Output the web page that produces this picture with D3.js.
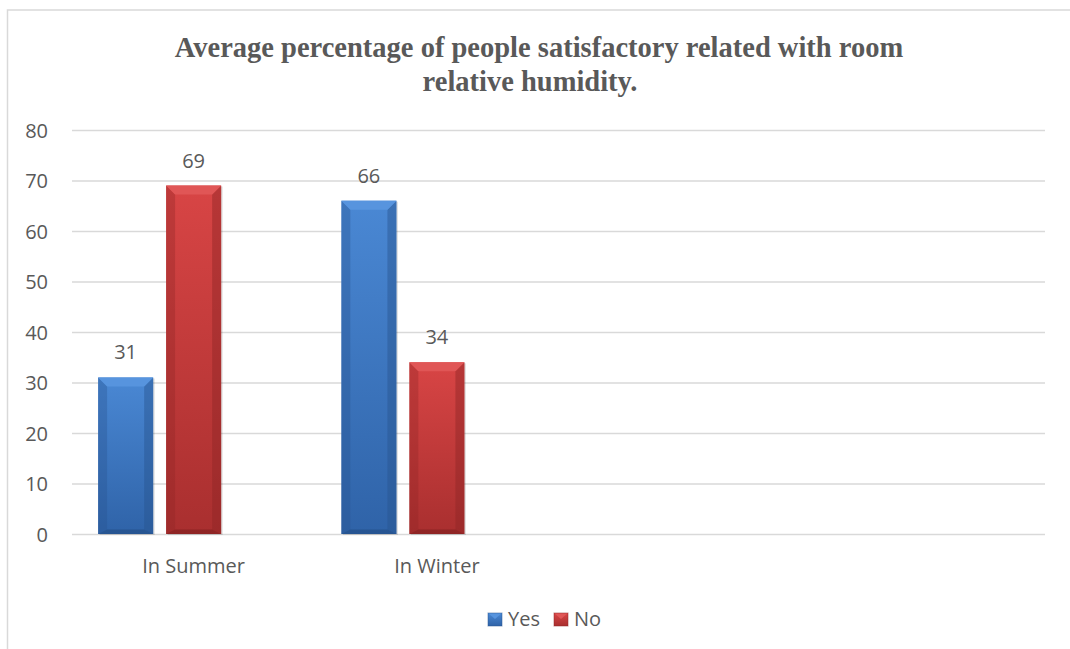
<!DOCTYPE html>
<html>
<head>
<meta charset="utf-8">
<script src="https://cdn.jsdelivr.net/npm/d3@7"></script>
<style>
  body { margin: 0; background: #fff; }
  .chart text { font-family: "Open Sans", sans-serif; fill: #595959; }
  .chart .title { font-family: "Liberation Serif", "Times New Roman", serif; font-weight: bold; }
</style>
</head>
<body>
<div class="chart"></div>
<script>
// chart data
var categories = ["In Summer", "In Winter", "", ""];
var seriesNames = ["Yes", "No"];
var yesValues = [31, 66, null, null];
var noValues = [69, 34, null, null];
var yTicks = [0, 10, 20, 30, 40, 50, 60, 70, 80];
var titleLines = ["Average percentage of people satisfactory related with room", "relative humidity."];

var svgWidth = 1070;
var svgHeight = 649;

var margin = { top: 130, right: 25, bottom: 115, left: 72 };
var width = svgWidth - margin.left - margin.right;
var height = 534 - margin.top;

var svg = d3.select(".chart")
  .append("svg")
  .attr("width", svgWidth)
  .attr("height", svgHeight);

var defs = svg.append("defs");

// bar colours: body gradient, bevel top, darker edges
var palette = {
  Yes: { top: "#4a88d4", bottom: "#2f63a8", bevel: "#5794de", edge: "#28548f", base: "#234c84" },
  No: { top: "#d84545", bottom: "#a92f2f", bevel: "#e05656", edge: "#8f2626", base: "#7f2020" }
};

seriesNames.forEach(function(s) {
  var g = defs.append("linearGradient")
    .attr("id", "grad-" + s)
    .attr("x1", 0).attr("y1", 0).attr("x2", 0).attr("y2", 1);
  g.append("stop").attr("offset", "0%").attr("stop-color", palette[s].top);
  g.append("stop").attr("offset", "100%").attr("stop-color", palette[s].bottom);
});

// chart area border (runs off the right and bottom of the picture)
svg.append("rect")
  .attr("x", 7.5)
  .attr("y", 10)
  .attr("width", 1200)
  .attr("height", 800)
  .attr("fill", "none")
  .attr("stroke", "#d9d9d9")
  .attr("stroke-width", 1.5);

// title, two lines as wrapped in the original
var title = svg.append("text")
  .attr("class", "title")
  .attr("y", 57)
  .attr("text-anchor", "middle")
  .style("font-size", "28.5px");

title.selectAll("tspan")
  .data(titleLines)
  .enter()
  .append("tspan")
  .attr("x", (d, i) => i === 0 ? 539 : 530)
  .attr("dy", (d, i) => i === 0 ? 0 : 34)
  .text(d => d);

var chartGroup = svg.append("g")
  .attr("transform", `translate(${margin.left}, ${margin.top})`);

// scales
var x0 = d3.scaleBand()
  .domain(d3.range(categories.length))
  .range([0, width]);

// Excel left room for a third (empty) series slot in each group
var x1 = d3.scaleBand()
  .domain(seriesNames.concat(["(blank)"]))
  .range([0, x0.bandwidth()])
  .paddingInner(0.19)
  .paddingOuter(0.384);

var yLinearScale = d3.scaleLinear()
  .domain([0, 80])
  .range([height, 0]);

// gridlines + y labels
var leftAxis = d3.axisLeft(yLinearScale)
  .tickValues(yTicks)
  .tickSize(-width)
  .tickPadding(24);

var yAxis = chartGroup.append("g").call(leftAxis);
yAxis.select(".domain").remove();
yAxis.selectAll("line")
  .attr("stroke", "#d9d9d9")
  .attr("stroke-width", 1.6);
yAxis.selectAll("text")
  .style("font-size", "20px")
  .attr("dy", "0.35em");

// category labels
var bottomAxis = d3.axisBottom(x0)
  .tickSize(0)
  .tickPadding(0)
  .tickFormat(i => categories[i]);

var xAxis = chartGroup.append("g")
  .attr("transform", `translate(0, ${height})`)
  .call(bottomAxis);
xAxis.select(".domain").remove();
xAxis.selectAll("text")
  .style("font-size", "20px")
  .attr("y", 39)
  .attr("dy", 0);

// bars
var rows = [];
categories.forEach(function(c, i) {
  [yesValues[i], noValues[i]].forEach(function(v, j) {
    if (v !== null) rows.push({ cat: i, series: seriesNames[j], value: v });
  });
});

var bars = chartGroup.selectAll(".bar")
  .data(rows)
  .enter()
  .append("g")
  .attr("class", "bar")
  .attr("transform", d => `translate(${x0(d.cat) + x1(d.series)}, ${yLinearScale(d.value)})`);

var bw = x1.bandwidth();
var bev = 9;

// soft shadow
bars.append("rect")
  .attr("x", 1.5)
  .attr("y", 1)
  .attr("width", bw)
  .attr("height", d => height - yLinearScale(d.value))
  .attr("fill", "#000")
  .attr("opacity", 0.12);

bars.append("rect")
  .attr("width", bw)
  .attr("height", d => height - yLinearScale(d.value))
  .attr("fill", d => `url(#grad-${d.series})`);

// side edges
bars.append("path")
  .attr("d", d => {
    var h = height - yLinearScale(d.value);
    return `M0,0 L${bev},${bev} L${bev},${h - bev / 2} L0,${h} Z`;
  })
  .attr("fill", d => palette[d.series].edge)
  .attr("opacity", 0.35);

bars.append("path")
  .attr("d", d => {
    var h = height - yLinearScale(d.value);
    return `M${bw},0 L${bw - bev},${bev} L${bw - bev},${h - bev / 2} L${bw},${h} Z`;
  })
  .attr("fill", d => palette[d.series].edge)
  .attr("opacity", 0.45);

// bottom edge
bars.append("path")
  .attr("d", d => {
    var h = height - yLinearScale(d.value);
    return `M0,${h} L${bev},${h - bev / 2} L${bw - bev},${h - bev / 2} L${bw},${h} Z`;
  })
  .attr("fill", d => palette[d.series].base)
  .attr("opacity", 0.6);

// top bevel
bars.append("path")
  .attr("d", `M0,0 L${bw},0 L${bw - bev},${bev} L${bev},${bev} Z`)
  .attr("fill", d => palette[d.series].bevel);

// value labels
chartGroup.selectAll(".value")
  .data(rows)
  .enter()
  .append("text")
  .attr("class", "value")
  .attr("x", d => x0(d.cat) + x1(d.series) + bw / 2)
  .attr("y", d => yLinearScale(d.value) - 18)
  .attr("text-anchor", "middle")
  .style("font-size", "20px")
  .text(d => d.value);

// legend
var legend = svg.append("g")
  .attr("transform", "translate(488, 613)");

var legendItem = legend.selectAll("g")
  .data(seriesNames)
  .enter()
  .append("g")
  .attr("transform", (d, i) => `translate(${i * 66}, 0)`);

legendItem.append("rect")
  .attr("width", 14)
  .attr("height", 13)
  .attr("fill", d => `url(#grad-${d})`);

legendItem.append("path")
  .attr("d", "M0,0 L14,0 L7,6 Z")
  .attr("fill", d => palette[d].bevel);

legendItem.append("rect")
  .attr("width", 14)
  .attr("height", 13)
  .attr("fill", "none")
  .attr("stroke", d => palette[d].edge)
  .attr("stroke-opacity", 0.5)
  .attr("stroke-width", 1);

legendItem.append("text")
  .attr("x", 20)
  .attr("y", 13)
  .style("font-size", "20px")
  .text(d => d);
</script>
</body>
</html>
